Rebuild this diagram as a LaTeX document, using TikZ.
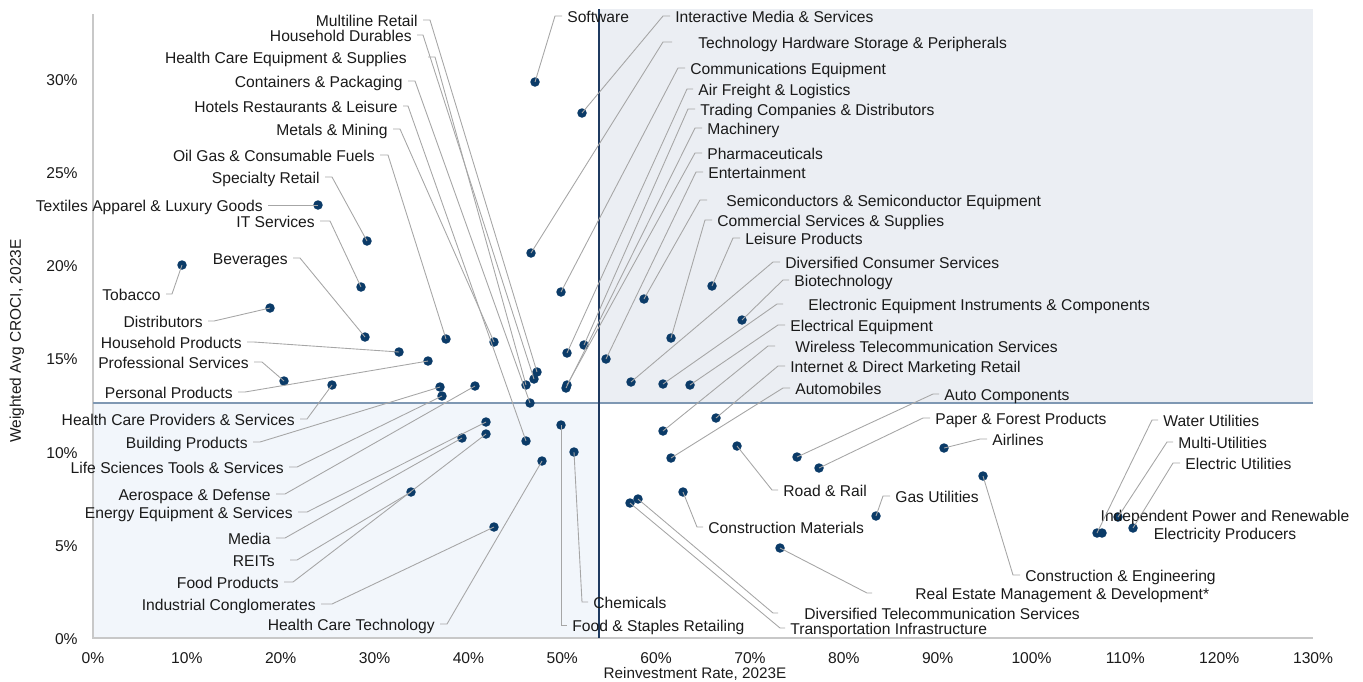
\documentclass[tikz,border=0pt]{standalone}
\usepackage{fontspec}
\setmainfont{Liberation Sans}
\definecolor{dotblue}{HTML}{0B3B68}
\definecolor{leadgray}{HTML}{A6A6A6}
\definecolor{axgray}{HTML}{C8C8C8}
\definecolor{qtop}{HTML}{EBEEF3}
\definecolor{qlow}{HTML}{F2F6FB}
\definecolor{vline}{HTML}{1F3A60}
\definecolor{hline}{HTML}{7F98B3}
\definecolor{txt}{HTML}{1A1A1A}
\begin{document}
\begin{tikzpicture}[x=0.02cm,y=0.02cm]
\tikzstyle{every node}+=[inner sep=0pt, font=\fontsize{8.9}{10.2}\selectfont, text=txt]
\tikzstyle{lbl}=[inner xsep=0.1cm, text height=0.75em, text depth=0.02em]
\tikzstyle{dot}=[circle, fill=dotblue, minimum size=0.19cm]
\tikzstyle{leader}=[leadgray, line width=0.5pt]
\useasboundingbox (0,0) rectangle (1363,-681);
\fill [qtop] (599,-9) rectangle (1313,-403);
\fill [qlow] (93,-403) rectangle (599,-638);
\draw [axgray, line width=0.6pt] (93,-14) -- (93,-638) -- (1313,-638);
\draw [hline, line width=1.1pt] (93,-403) -- (1313,-403);
\draw [vline, line width=0.7pt] (599,-9) -- (599,-638);
\foreach \t in {0,5,...,30}
  \node [lbl, anchor=east] (y\t) at (83,{-638+18.63*\t}) {\t\%};
\foreach \t in {0,10,...,130}
  \node [lbl] (x\t) at ({93+9.385*\t},-657) {\t\%};
\node [font=\fontsize{8.7}{10}\selectfont] (xtitle) at (695,-674) {Reinvestment Rate, 2023E};
\node [rotate=90, font=\fontsize{8.8}{10}\selectfont] (ytitle) at (17,-341) {Weighted Avg CROCI, 2023E};
\node [dot] (pSoft) at (535,-82) {};
\node [dot] (pIntMed) at (582,-113) {};
\node [dot] (pTechHW) at (531,-253) {};
\node [dot] (pCommEq) at (561,-292) {};
\node [dot] (pAirFr) at (567,-353) {};
\node [dot] (pTrade) at (584,-345) {};
\node [dot] (pMach) at (566,-388) {};
\node [dot] (pPharma) at (567,-385) {};
\node [dot] (pEnt) at (606,-359) {};
\node [dot] (pSemi) at (644,-299) {};
\node [dot] (pCommSv) at (671,-338) {};
\node [dot] (pLeis) at (712,-286) {};
\node [dot] (pDivCons) at (631,-382) {};
\node [dot] (pBiot) at (742,-320) {};
\node [dot] (pElecEq) at (663,-384) {};
\node [dot] (pElcEq) at (690,-385) {};
\node [dot] (pWire) at (663,-431) {};
\node [dot] (pInet) at (716,-418) {};
\node [dot] (pAuto) at (671,-458) {};
\node [dot] (pAutoC) at (797,-457) {};
\node [dot] (pPaper) at (819,-468) {};
\node [dot] (pAir) at (944,-448) {};
\node [dot] (pRoad) at (737,-446) {};
\node [dot] (pGas) at (876,-516) {};
\node [dot] (pCMat) at (683,-492) {};
\node [dot] (pWater) at (1097,-533) {};
\node [dot] (pIPP) at (1102,-533) {};
\node [dot] (pMulti) at (1118,-517) {};
\node [dot] (pElUt) at (1133,-528) {};
\node [dot] (pCEng) at (983,-476) {};
\node [dot] (pREst) at (780,-548) {};
\node [dot] (pDTel) at (638,-499) {};
\node [dot] (pTInf) at (630,-503) {};
\node [dot] (pChem) at (574,-452) {};
\node [dot] (pFStap) at (561,-425) {};
\node [dot] (pMult) at (537,-372) {};
\node [dot] (pHDur) at (534,-379) {};
\node [dot] (pHCEq) at (526,-385) {};
\node [dot] (pCont) at (530,-403) {};
\node [dot] (pHotel) at (526,-441) {};
\node [dot] (pMetal) at (494,-342) {};
\node [dot] (pOil) at (446,-339) {};
\node [dot] (pSpec) at (367,-241) {};
\node [dot] (pText) at (318,-205) {};
\node [dot] (pITS) at (361,-287) {};
\node [dot] (pBev) at (365,-337) {};
\node [dot] (pTob) at (182,-265) {};
\node [dot] (pDist) at (270,-308) {};
\node [dot] (pHProd) at (399,-352) {};
\node [dot] (pProf) at (284,-381) {};
\node [dot] (pPers) at (428,-361) {};
\node [dot] (pHCP) at (332,-385) {};
\node [dot] (pBld) at (440,-387) {};
\node [dot] (pLSci) at (442,-396) {};
\node [dot] (pAero) at (475,-386) {};
\node [dot] (pEnrg) at (486,-422) {};
\node [dot] (pMedia) at (462,-438) {};
\node [dot] (pREIT) at (411,-492) {};
\node [dot] (pFProd) at (486,-434) {};
\node [dot] (pIndC) at (494,-527) {};
\node [dot] (pHCT) at (542,-461) {};
\node [lbl, anchor=west] (lSoft) at (562,-16) {Software};
\node [lbl, anchor=west] (lIntMed) at (670,-16) {Interactive Media \& Services};
\node [lbl, anchor=west] (lTechHW) at (672,-42) {\hspace*{0.42cm}Technology Hardware Storage \& Peripherals};
\node [lbl, anchor=west] (lCommEq) at (685,-68) {Communications Equipment};
\node [lbl, anchor=west] (lAirFr) at (693,-89) {Air Freight \& Logistics};
\node [lbl, anchor=west] (lTrade) at (695,-109) {Trading Companies \& Distributors};
\node [lbl, anchor=west] (lMach) at (702,-128) {Machinery};
\node [lbl, anchor=west] (lPharma) at (702,-153) {Pharmaceuticals};
\node [lbl, anchor=west] (lEnt) at (703,-172) {Entertainment};
\node [lbl, anchor=west] (lSemi) at (707,-200) {\hspace*{0.28cm}Semiconductors \& Semiconductor Equipment};
\node [lbl, anchor=west] (lCommSv) at (712,-220) {Commercial Services \& Supplies};
\node [lbl, anchor=west] (lLeis) at (740,-238) {Leisure Products};
\node [lbl, anchor=west] (lDivCons) at (780,-262) {Diversified Consumer Services};
\node [lbl, anchor=west] (lBiot) at (789,-280) {Biotechnology};
\node [lbl, anchor=west] (lElecEq) at (783,-304) {\hspace*{0.4cm}Electronic Equipment Instruments \& Components};
\node [lbl, anchor=west] (lElcEq) at (785,-325) {Electrical Equipment};
\node [lbl, anchor=west] (lWire) at (775,-346) {\hspace*{0.3cm}Wireless Telecommunication Services};
\node [lbl, anchor=west] (lInet) at (785,-366) {Internet \& Direct Marketing Retail};
\node [lbl, anchor=west] (lAuto) at (790,-388) {Automobiles};
\node [lbl, anchor=west] (lAutoC) at (939,-394) {Auto Components};
\node [lbl, anchor=west] (lPaper) at (930,-418) {Paper \& Forest Products};
\node [lbl, anchor=west] (lAir) at (987,-439) {Airlines};
\node [lbl, anchor=west] (lRoad) at (778,-490) {Road \& Rail};
\node [lbl, anchor=west] (lGas) at (890,-496) {Gas Utilities};
\node [lbl, anchor=west] (lCMat) at (703,-527) {Construction Materials};
\node [lbl, anchor=west] (lWater) at (1158,-420) {Water Utilities};
\node [lbl, anchor=west] (lMulti) at (1173,-442) {Multi-Utilities};
\node [lbl, anchor=west] (lElUt) at (1180,-463) {Electric Utilities};
\node [align=center] (lIPP) at (1225,-526) {Independent Power and Renewable\\Electricity Producers};
\node [lbl, anchor=west] (lCEng) at (1020,-575) {Construction \& Engineering};
\node [lbl, anchor=west] (lREst) at (872,-593) {\hspace*{0.76cm}Real Estate Management \& Development*};
\node [lbl, anchor=west] (lDTel) at (778,-613) {\hspace*{0.42cm}Diversified Telecommunication Services};
\node [lbl, anchor=west] (lTInf) at (785,-628) {Transportation Infrastructure};
\node [lbl, anchor=west] (lChem) at (588,-602) {Chemicals};
\node [lbl, anchor=west] (lFStap) at (567,-625) {Food \& Staples Retailing};
\node [lbl, anchor=east] (lMult) at (423,-20) {Multiline Retail};
\node [lbl, anchor=east] (lHDur) at (417,-35) {Household Durables};
\node [lbl, anchor=east] (lHCEq) at (428,-57) {Health Care Equipment \& Supplies\hspace*{0.32cm}};
\node [lbl, anchor=east] (lCont) at (408,-81) {Containers \& Packaging};
\node [lbl, anchor=east] (lHotel) at (403,-106) {Hotels Restaurants \& Leisure};
\node [lbl, anchor=east] (lMetal) at (393,-129) {Metals \& Mining};
\node [lbl, anchor=east] (lOil) at (380,-155) {Oil Gas \& Consumable Fuels};
\node [lbl, anchor=east] (lSpec) at (325,-177) {Specialty Retail};
\node [lbl, anchor=east] (lText) at (268,-205) {Textiles Apparel \& Luxury Goods};
\node [lbl, anchor=east] (lITS) at (320,-221) {IT Services};
\node [lbl, anchor=east] (lBev) at (293,-258) {Beverages};
\node [lbl, anchor=east] (lTob) at (166,-294) {Tobacco};
\node [lbl, anchor=east] (lDist) at (208,-321) {Distributors};
\node [lbl, anchor=east] (lHProd) at (247,-342) {Household Products};
\node [lbl, anchor=east] (lProf) at (254,-362) {Professional Services};
\node [lbl, anchor=east] (lPers) at (238,-392) {Personal Products};
\node [lbl, anchor=east] (lHCP) at (300,-419) {Health Care Providers \& Services};
\node [lbl, anchor=east] (lBld) at (253,-442) {Building Products};
\node [lbl, anchor=east] (lLSci) at (289,-467) {Life Sciences Tools \& Services};
\node [lbl, anchor=east] (lAero) at (276,-494) {Aerospace \& Defense};
\node [lbl, anchor=east] (lEnrg) at (298,-512) {Energy Equipment \& Services};
\node [lbl, anchor=east] (lMedia) at (276,-538) {Media};
\node [lbl, anchor=east] (lREIT) at (290,-560) {REITs\hspace*{0.2cm}};
\node [lbl, anchor=east] (lFProd) at (284,-582) {Food Products};
\node [lbl, anchor=east] (lIndC) at (321,-604) {Industrial Conglomerates};
\node [lbl, anchor=east] (lHCT) at (440,-624) {Health Care Technology};
\coordinate (kSoft) at (555,-16);
\coordinate (kIntMed) at (663,-16);
\coordinate (kTechHW) at (663,-42);
\coordinate (kCommEq) at (678,-68);
\coordinate (kAirFr) at (687,-89);
\coordinate (kTrade) at (688,-109);
\coordinate (kMach) at (695,-128);
\coordinate (kPharma) at (695,-153);
\coordinate (kEnt) at (696,-172);
\coordinate (kSemi) at (700,-200);
\coordinate (kCommSv) at (705,-220);
\coordinate (kLeis) at (733,-238);
\coordinate (kDivCons) at (773,-262);
\coordinate (kBiot) at (783,-280);
\coordinate (kElecEq) at (777,-304);
\coordinate (kElcEq) at (778,-325);
\coordinate (kWire) at (768,-346);
\coordinate (kInet) at (778,-366);
\coordinate (kAuto) at (783,-388);
\coordinate (kAutoC) at (933,-394);
\coordinate (kPaper) at (923,-418);
\coordinate (kAir) at (980,-439);
\coordinate (kRoad) at (772,-490);
\coordinate (kGas) at (883,-496);
\coordinate (kCMat) at (697,-527);
\coordinate (kWater) at (1152,-420);
\coordinate (kMulti) at (1167,-442);
\coordinate (kElUt) at (1173,-463);
\coordinate (kCEng) at (1013,-575);
\coordinate (kREst) at (867,-593);
\coordinate (kDTel) at (773,-613);
\coordinate (kTInf) at (780,-628);
\coordinate (kChem) at (582,-602);
\coordinate (kFStap) at (561,-625);
\coordinate (kMult) at (430,-20);
\coordinate (kHDur) at (423,-35);
\coordinate (kHCEq) at (435,-57);
\coordinate (kCont) at (415,-81);
\coordinate (kHotel) at (408,-106);
\coordinate (kMetal) at (400,-129);
\coordinate (kOil) at (388,-155);
\coordinate (kSpec) at (332,-177);
\coordinate (kITS) at (330,-221);
\coordinate (kBev) at (300,-258);
\coordinate (kTob) at (172,-294);
\coordinate (kDist) at (214,-321);
\coordinate (kHProd) at (254,-342);
\coordinate (kProf) at (262,-362);
\coordinate (kPers) at (245,-392);
\coordinate (kHCP) at (307,-419);
\coordinate (kBld) at (260,-442);
\coordinate (kLSci) at (297,-467);
\coordinate (kAero) at (285,-494);
\coordinate (kEnrg) at (307,-512);
\coordinate (kMedia) at (285,-538);
\coordinate (kREIT) at (297,-560);
\coordinate (kFProd) at (293,-582);
\coordinate (kIndC) at (332,-604);
\coordinate (kHCT) at (447,-624);
\foreach \n in {Soft,IntMed,TechHW,CommEq,AirFr,Trade,Mach,Pharma,Ent,Semi,CommSv,Leis,DivCons,Biot,ElecEq,ElcEq,Wire,Inet,Auto,AutoC,Paper,Air,Road,Gas,CMat,Water,Multi,ElUt,CEng,REst,DTel,TInf,Chem,FStap}
  \draw [leader] (p\n.center) -- (k\n) -- (l\n.west);
\foreach \n in {Mult,HDur,HCEq,Cont,Hotel,Metal,Oil,Spec,ITS,Bev,Tob,Dist,HProd,Prof,Pers,HCP,Bld,LSci,Aero,Enrg,Media,REIT,FProd,IndC,HCT}
  \draw [leader] (p\n.center) -- (k\n) -- (l\n.east);
\draw [leader] (pText.center) -- (lText.east);
\end{tikzpicture}
\end{document}
